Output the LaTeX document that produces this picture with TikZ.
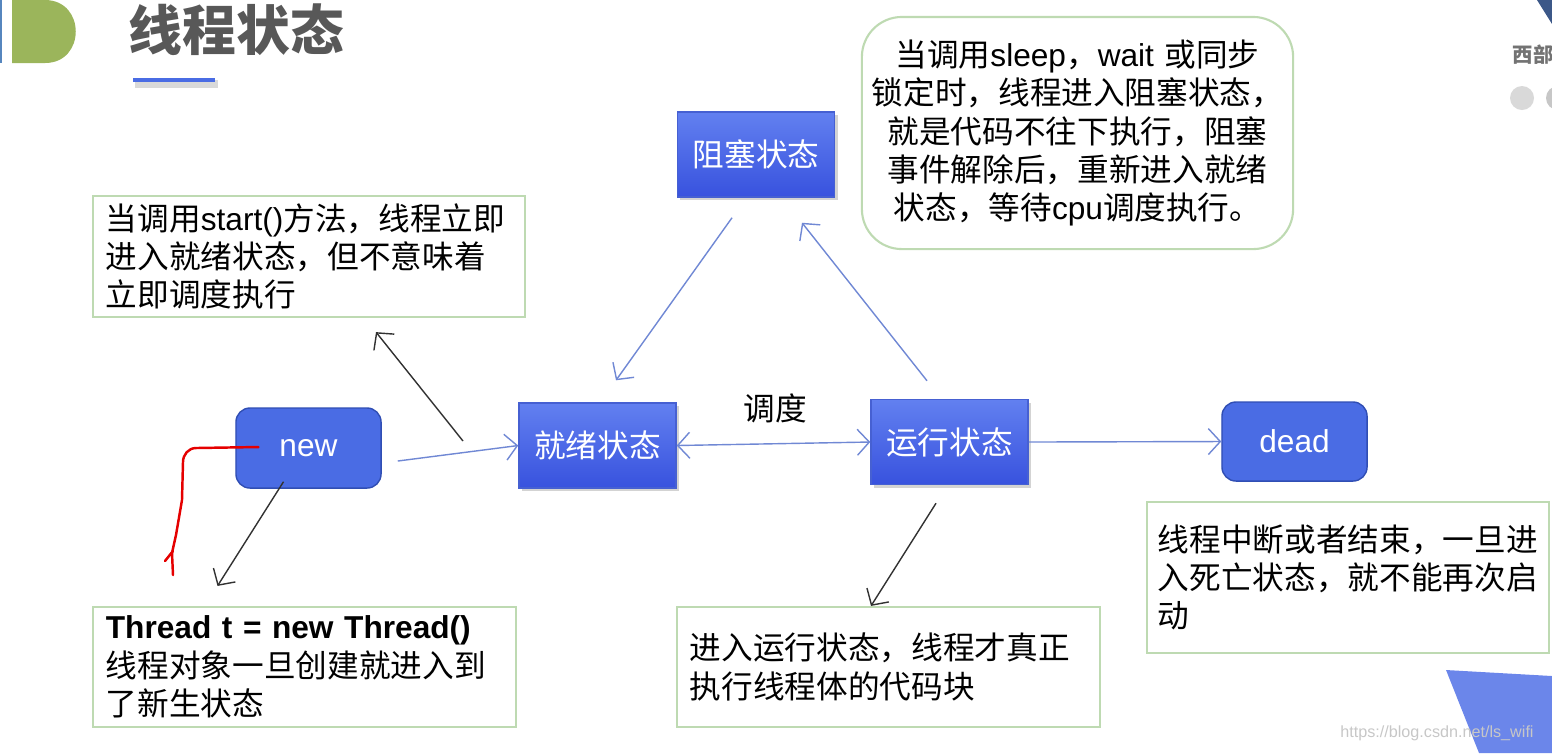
\documentclass[tikz,border=0pt]{standalone}
\usepackage{fontspec}
\setmainfont{Noto Sans CJK SC}
\newfontfamily\lat{Liberation Sans}
\usepackage{tikz}
\usetikzlibrary{arrows.meta}
\usetikzlibrary{calc}
\usetikzlibrary{shadows}
\usetikzlibrary{positioning}

\definecolor{notegreen}{RGB}{190,218,178}
\definecolor{statetop}{RGB}{98,128,240}
\definecolor{statebottom}{RGB}{56,82,222}
\definecolor{stateedge}{RGB}{70,96,210}
\definecolor{roundfill}{RGB}{74,108,228}
\definecolor{roundedge}{RGB}{48,78,180}
\definecolor{linkblue}{RGB}{112,136,212}
\definecolor{linkblack}{RGB}{50,50,50}
\definecolor{titlegray}{RGB}{88,88,88}
\definecolor{leafgreen}{RGB}{155,181,91}
\definecolor{barblue}{RGB}{86,134,190}
\definecolor{slideblue}{RGB}{107,134,234}
\definecolor{cornerblue}{RGB}{60,88,136}

\tikzset{
    statebox/.style={draw=stateedge,top color=statetop,bottom color=statebottom,text=white,
        minimum width=1.57cm,minimum height=0.85cm,inner sep=0pt,
        font=\fontsize{9}{11}\selectfont,
        drop shadow={shadow xshift=0.03cm,shadow yshift=-0.03cm,opacity=0.35}},
    roundbox/.style={draw=roundedge,fill=roundfill,text=white,rounded corners=0.14cm,
        minimum width=1.45cm,minimum height=0.8cm,inner sep=0pt,
        font=\lat\fontsize{9}{11}\selectfont},
    note/.style={draw=notegreen,line width=0.6pt,align=left,inner xsep=0.13cm,inner ysep=0pt,
        font=\fontsize{9}{10.9}\selectfont,text=black},
    bluelink/.style={draw=linkblue,line width=0.4pt,-{Straight Barb[length=1.2mm,width=2.6mm]}},
    blacklink/.style={draw=linkblack,line width=0.4pt,-{Straight Barb[length=1.2mm,width=2.6mm]}}
}

\begin{document}
\begin{tikzpicture}[x=0.01cm,y=-0.01cm]

        \useasboundingbox (0,0) rectangle (1552,753);

        % slide decorations
        \fill[barblue] (0,0) rectangle (2,63);
        \fill[leafgreen] (12,0) -- (45,0) .. controls (86,0) and (86,63) .. (45,63) -- (12,63) -- cycle;
        \node[font=\fontsize{15.3}{15.3}\selectfont\bfseries,text=titlegray] (title) at (236.5,30) {线程状态};
        \draw[black!15,line width=2.5pt] (135,84) -- (218,84);
        \draw[roundfill,line width=1pt] (133,80) -- (215,80);
        \begin{scope}
            \clip (0,0) rectangle (1552,753);
            \fill[cornerblue] (1537,0) -- (1552,0) -- (1552,24) -- cycle;
            \node[anchor=west,inner sep=0pt,font=\bfseries\fontsize{5.8}{6}\selectfont,text=black!55] (brand) at (1512,55) {西部};
            \fill[black!15] (1522,98) circle (12);
            \fill[black!22] (1558,98) circle (12);
            \fill[slideblue] (1446,670) -- (1552,676) -- (1552,753) -- (1479,753) -- cycle;
        \end{scope}
        \node[anchor=east,font=\lat\fontsize{4.6}{5}\selectfont,text=black!22] (wm) at (1546,733) {https://blog.csdn.net/ls\_wifi};

        % states
        \node[roundbox] (new) at (308.5,448) {new};
        \node[statebox] (ready) at (597.5,445.5) {就绪状态};
        \node[statebox] (blocked) at (756,154.5) {阻塞状态};
        \node[statebox] (running) at (949.5,442) {运行状态};
        \node[roundbox,minimum height=0.79cm] (dead) at (1294.5,441.5) {dead};
        \node (sched) at (775,408) {\fontsize{9}{11}\selectfont 调度};

        % notes
        \node[note,minimum width=4.32cm,minimum height=1.21cm,text width=4.06cm] (startnote) at (309,256.5)
            {当调用{\lat start()}方法，线程立即\\进入就绪状态，但不意味着\\立即调度执行};
        \node[note,align=center,rounded corners=0.4cm,inner xsep=0.095cm,minimum width=4.31cm,minimum height=2.32cm,text width=4.12cm] (blocknote) at (1077.5,133)
            {当调用{\lat sleep}，{\lat wait }或同步\\锁定时，线程进入阻塞状态，\\就是代码不往下执行，阻塞\\事件解除后，重新进入就绪\\状态，等待{\lat cpu}调度执行。};
        \node[note,minimum width=4.23cm,minimum height=1.2cm,text width=3.97cm] (newnote) at (304.5,667)
            {{\lat\bfseries Thread t = new Thread()}\\线程对象一旦创建就进入到\\了新生状态};
        \node[note,minimum width=4.23cm,minimum height=1.2cm,text width=3.97cm] (runnote) at (888.5,667)
            {进入运行状态，线程才真正\\执行线程体的代码块};
        \node[note,inner xsep=0.11cm,minimum width=4.02cm,minimum height=1.51cm,text width=3.8cm] (deadnote) at (1348,577.5)
            {线程中断或者结束，一旦进\\入死亡状态，就不能再次启\\动};

        % transitions
        \coordinate (startfoot) at (463,441);
        \draw[bluelink] ($(new.east)+(16,13)$) -- (ready.west);
        \draw[blacklink] (startfoot) -- ($(startnote.south)+(67,14)$);
        \draw[blacklink] ($(new.south)+(-25,-7)$) -- ($(newnote.north)+(-87,-20)$);
        \draw[bluelink] ($(blocked.south)+(-24,20)$) -- ($(ready.north)+(18.5,-22)$);
        \draw[bluelink] ($(running.north)+(-22.5,-18)$) -- ($(blocked.south)+(46,25)$);
        \draw[bluelink,{Straight Barb[length=1.2mm,width=2.6mm]}-{Straight Barb[length=1.2mm,width=2.6mm]}] (ready.east) -- (running.west);
        \draw[bluelink] (running.east) -- (dead.west);
        \draw[blacklink] ($(running.south)+(-13.5,18)$) -- ($(runnote.north)+(-17.5,0)$);

        % red pen mark
        \draw[red!90!black,line width=0.7pt,line cap=round,line join=round]
            ($(new.center)+(-50,-1)$) -- (196,448) to[out=180,in=90] (183,462) -- (182,500) -- (176,535) -- (172,553) -- (173,575);
        \draw[red!90!black,line width=0.7pt,line cap=round] (165,561) -- (173,551);

    \end{tikzpicture}
\end{document}
